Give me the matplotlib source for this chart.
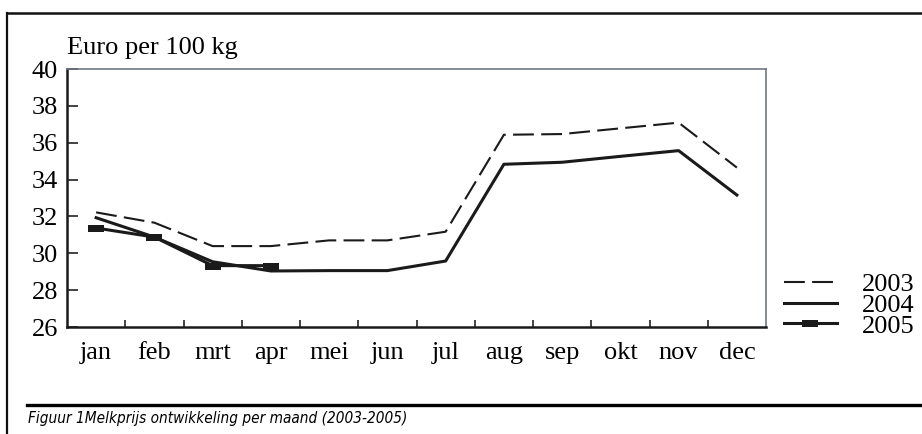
import numpy as np
import matplotlib
matplotlib.use("Agg")
import matplotlib.pyplot as plt
from matplotlib.lines import Line2D

months = ['jan', 'feb', 'mrt', 'apr', 'mei', 'jun', 'jul', 'aug', 'sep', 'okt', 'nov', 'dec']
p2003 = [32.22, 31.66, 30.39, 30.39, 30.70, 30.70, 31.17, 36.43, 36.47, 36.78, 37.09, 34.65]
p2004 = [31.93, 30.88, 29.54, 29.04, 29.06, 29.06, 29.58, 34.83, 34.94, 35.26, 35.57, 33.16]
p2005 = [31.37, 30.88, 29.33, 29.33]
yticks = [26, 28, 30, 32, 34, 36, 38, 40]

W, H = 922, 434
serif = ['Liberation Serif', 'DejaVu Serif']

fig = plt.figure(figsize=(W / 100, H / 100), dpi=100)
ax = fig.add_axes([67 / W, 1 - 327 / H, (766 - 67) / W, (327 - 69) / H])

x = np.arange(len(months))
rect = [(-1, -0.42), (1, -0.42), (1, 0.42), (-1, 0.42), (-1, -0.42)]

l1, = ax.plot(x, p2003, color='#1a1a1a', lw=1.5, dashes=(10, 3.5))
l2, = ax.plot(x, p2004, color='#1a1a1a', lw=2.2)
l3, = ax.plot(x[:len(p2005)], p2005, color='#1a1a1a', lw=2.2,
              marker=rect, markersize=12, markerfacecolor='#1a1a1a', markeredgewidth=0)

ax.set_xlim(-0.5, len(months) - 0.5)
ax.set_ylim(26, 40)

# category axis: ticks between months, labels at centres
ax.set_xticks(np.arange(0.5, len(months) - 1, 1))
ax.set_xticklabels([])
ax.set_xticks(x, minor=True)
ax.set_xticklabels(months, minor=True, fontsize=19, family=serif)
ax.tick_params(axis='x', which='major', direction='in', length=5, width=1.2, color='#222222')
ax.tick_params(axis='x', which='minor', length=0, pad=11)

ax.set_yticks(yticks)
ax.set_yticklabels([str(v) for v in yticks], fontsize=19, family=serif)
ax.tick_params(axis='y', direction='in', length=8, width=1.2, pad=6.5, color='#222222')

for s in ['left', 'bottom']:
    ax.spines[s].set_color('#1a1a1a')
    ax.spines[s].set_linewidth(1.8)
for s in ['top', 'right']:
    ax.spines[s].set_color('#707880')
    ax.spines[s].set_linewidth(1.2)

ax.text(0, 1.04, 'Euro per 100 kg', transform=ax.transAxes, fontsize=19,
        family=serif, ha='left', va='bottom')

fig.legend([l1, l2, l3], ['2003', '2004', '2005'], loc='center left',
           bbox_to_anchor=(784 / W, 1 - 305 / H), frameon=False,
           prop={'family': serif, 'size': 19}, handlelength=2.0,
           handletextpad=0.95, labelspacing=-0.1, borderpad=0, borderaxespad=0)

# outer frame and caption rule
fig.add_artist(Line2D([7 / W, 7 / W], [0, 1 - 13 / H], color='#111111', lw=1.6))
fig.add_artist(Line2D([7 / W, 1], [1 - 13 / H, 1 - 13 / H], color='#111111', lw=1.8))
fig.add_artist(Line2D([27 / W, 1], [1 - 405 / H, 1 - 405 / H], color='#000000', lw=2.4))

fig.text(28 / W, 1 - 419 / H, 'Figuur 1Melkprijs ontwikkeling per maand (2003-2005)',
         fontsize=11, style='italic', family='DejaVu Sans', stretch='condensed',
         ha='left', va='center')

fig.savefig('out.png', dpi=100)
